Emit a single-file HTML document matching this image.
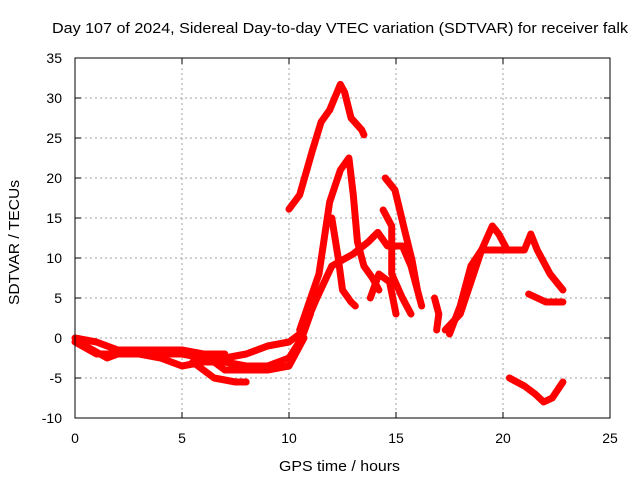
<!DOCTYPE html>
<html><head><meta charset="utf-8"><style>
body{margin:0;background:#fff}
svg{display:block;font-family:"Liberation Sans",sans-serif}
</style></head><body>
<svg id="chart" width="640" height="480">
<text x="52" y="33" textLength="576" lengthAdjust="spacingAndGlyphs" font-size="15">Day 107 of 2024, Sidereal Day-to-day VTEC variation (SDTVAR) for receiver falk</text>
<text x="279" y="471" textLength="121" lengthAdjust="spacingAndGlyphs" font-size="15">GPS time / hours</text>
<text transform="translate(19,305) rotate(-90)" textLength="125" lengthAdjust="spacingAndGlyphs" font-size="15">SDTVAR / TECUs</text>
<g id="grid"></g>
<g id="ticks"></g>
<g id="series"></g>
<rect x="75" y="58" width="535" height="360" fill="none" stroke="#000" stroke-width="1"/>
</svg>
<script>
const xTicks=[0,5,10,15,20,25];
const yTicks=[-10,-5,0,5,10,15,20,25,30,35];
const trackA=[[10.0,16.1],[10.5,17.9],[11.1,23.5],[11.5,27],[11.9,28.5],[12.4,31.7],[12.6,30.7],[12.9,27.5],[13.4,26],[13.5,25.4]];
const trackB=[[10.5,1],[11.4,8],[11.9,17],[12.4,21],[12.8,22.5],[13.0,18],[13.2,12],[13.5,9],[13.9,7.5],[14.2,6]];
const trackB2=[[12.0,15],[12.3,10],[12.5,6],[12.9,4.5],[13.1,4]];
const trackC=[[10.5,0],[11.3,5],[12,9],[13,10.5],[13.7,12],[14.15,13.2],[14.6,11.5],[15.3,11.5],[15.7,9],[16.0,6],[16.2,4]];
const trackD=[[14.5,20],[14.95,18.5],[15.4,13.5],[15.75,9.7],[16.0,6]];
const trackE=[[14.4,16],[14.8,14],[14.8,8],[15.3,5],[15.7,3]];
const trackF=[[13.8,5],[14.2,8],[14.7,7],[15.0,3]];
const trackG=[[16.8,5],[17.0,3],[16.9,1]];
const trackH=[[17.3,1],[18.0,3],[18.5,7],[19.0,11],[19.5,14],[19.8,13],[20.2,11],[21.0,11],[21.3,13],[21.6,11],[22.2,8],[22.8,6]];
const trackH2=[[17.5,0.5],[18.0,4],[18.5,9],[19.0,11],[19.5,11],[20.5,11]];
const trackI=[[21.2,5.5],[22.0,4.5],[22.8,4.5]];
const trackJ=[[20.3,-5],[21.0,-6],[21.5,-7],[21.9,-8],[22.3,-7.5],[22.8,-5.5]];
const trackM1=[[0,0],[1,-0.5],[2,-1.5],[3,-1.5],[4,-2],[5,-2],[6,-2.5],[7,-2.5],[8,-2],[9,-1],[10,-0.5],[10.5,0.5],[11,3]];
const trackM2=[[0,-0.5],[1,-2],[2,-2],[3,-2],[4,-2.5],[5,-3.5],[6,-3],[7,-3],[8,-3.5],[9,-3.5],[10,-2.5],[10.6,0],[11,3]];
const trackM3=[[5.5,-3],[6,-4],[6.5,-5],[7.5,-5.5],[8,-5.5]];
const trackM4=[[6,-2],[7,-4],[8,-4],[9,-4],[10,-3.5],[10.7,0]];
const trackM5=[[0.5,-1],[1.5,-2.5],[2.5,-1.5],[4,-1.5],[5,-1.5],[6,-2],[7,-2]];
const tracks=[trackA,trackB,trackB2,trackC,trackD,trackE,trackF,trackG,trackH,trackH2,trackI,trackJ,trackM1,trackM2,trackM3,trackM4,trackM5];
const NS='http://www.w3.org/2000/svg';
const X=t=>75+t*535/25;
const Y=v=>338-v*8;
const grid=document.getElementById('grid'),ticks=document.getElementById('ticks'),series=document.getElementById('series');
function mk(tag,attrs,parent){const e=document.createElementNS(NS,tag);for(const k in attrs)e.setAttribute(k,attrs[k]);parent.appendChild(e);return e;}
xTicks.forEach(t=>{
  if(t>0&&t<25){const g=mk('line',{x1:X(t),x2:X(t),y1:58,y2:418,stroke:'#a0a0a0','stroke-dasharray':'2,3'},grid);
  
  }
  mk('line',{x1:X(t),x2:X(t),y1:418,y2:412,stroke:'#000'},ticks);
  mk('line',{x1:X(t),x2:X(t),y1:58,y2:64,stroke:'#000'},ticks);
  const l=mk('text',{x:X(t),y:443,'text-anchor':'middle','font-size':14},ticks);
  l.textContent=t;
  
  
});
yTicks.forEach(v=>{
  if(v>-10&&v<35){const g=mk('line',{x1:75,x2:610,y1:Y(v),y2:Y(v),stroke:'#a0a0a0','stroke-dasharray':'2,3'},grid);
  
  }
  mk('line',{x1:75,x2:81,y1:Y(v),y2:Y(v),stroke:'#000'},ticks);
  mk('line',{x1:604,x2:610,y1:Y(v),y2:Y(v),stroke:'#000'},ticks);
  const l=mk('text',{x:62,y:Y(v)+5,'text-anchor':'end','font-size':14},ticks);
  l.textContent=v;
  
  
});
tracks.forEach(tr=>{
  const p=mk('polyline',{points:tr.map(d=>X(d[0])+','+Y(d[1])).join(' '),fill:'none',stroke:'#ff0000','stroke-width':7,'stroke-linejoin':'round','stroke-linecap':'round'},series);
  
  
});
</script>
</body></html>
